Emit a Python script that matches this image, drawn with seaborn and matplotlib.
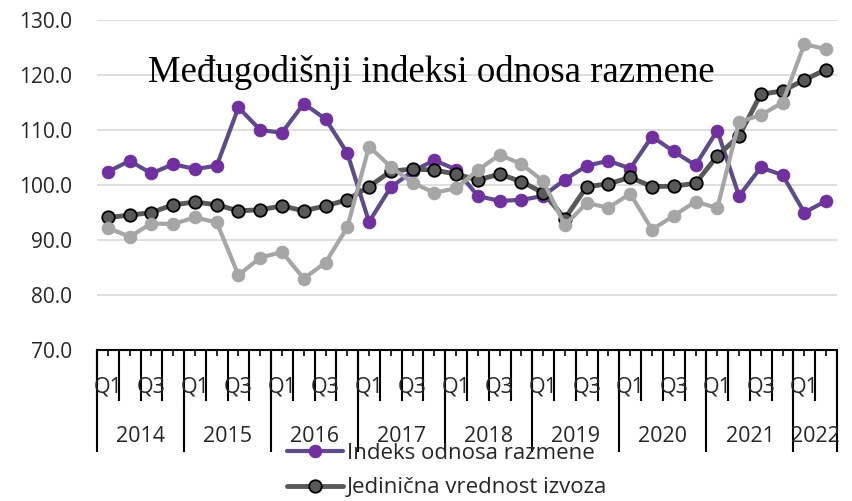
import matplotlib
matplotlib.use("Agg")
import matplotlib.pyplot as plt
import seaborn as sns
import pandas as pd

# Data
years = ["2014", "2015", "2016", "2017", "2018", "2019", "2020", "2021", "2022"]
quarters_per_year = [4, 4, 4, 4, 4, 4, 4, 4, 2]
periods = [f"{y}Q{q}" for y, n in zip(years, quarters_per_year) for q in range(1, n + 1)]

indeks_odnosa = [102.4, 104.4, 102.1, 103.8, 102.9, 103.5, 114.1, 110.0, 109.5, 114.8,
                 112.0, 105.8, 93.3, 99.6, 102.5, 104.5, 102.8, 98.0, 97.1, 97.3,
                 98.0, 101.0, 103.5, 104.4, 103.0, 108.8, 106.1, 103.6, 109.9, 98.0,
                 103.2, 101.8, 95.0, 97.1]
vrednost_izvoza = [94.1, 94.5, 95.0, 96.4, 96.9, 96.4, 95.3, 95.5, 96.2, 95.3,
                   96.2, 97.3, 99.7, 102.5, 102.9, 102.7, 102.0, 100.9, 102.0, 100.6,
                   98.6, 93.9, 99.7, 100.2, 101.4, 99.7, 99.8, 100.3, 105.3, 108.9,
                   116.5, 117.1, 119.1, 121.0]
vrednost_uvoza = [92.2, 90.6, 93.0, 92.9, 94.1, 93.2, 83.6, 86.8, 87.8, 83.0,
                  85.9, 92.3, 107.0, 103.3, 100.4, 98.6, 99.4, 102.7, 105.5, 103.8,
                  100.7, 92.7, 96.7, 95.9, 98.4, 91.9, 94.4, 97.0, 95.8, 111.5,
                  112.7, 115.0, 125.6, 124.7]

df = pd.DataFrame({
    "period": periods,
    "pos": range(len(periods)),
    "Indeks odnosa razmene": indeks_odnosa,
    "Jedinična vrednost izvoza": vrednost_izvoza,
    "Jedinična vrednost uvoza": vrednost_uvoza,
})

sns.set_theme(style="white")
plt.rcParams["font.family"] = ["Open Sans", "DejaVu Sans"]

fig = plt.figure(figsize=(8.52, 5.01), dpi=100)
ax = fig.add_axes([97 / 852, 151 / 501, 740 / 852, 330 / 501])

# purple, dark gray (black edge), light gray
sns.lineplot(data=df, x="pos", y="Indeks odnosa razmene", ax=ax,
             color="#5F4B8B", linewidth=3, marker="o", markersize=11,
             markerfacecolor="#7030A0", markeredgecolor="#7030A0",
             label="Indeks odnosa razmene")
sns.lineplot(data=df, x="pos", y="Jedinična vrednost izvoza", ax=ax,
             color="#595959", linewidth=3.5, marker="o", markersize=11,
             markerfacecolor="#595959", markeredgecolor="black", markeredgewidth=1.3,
             label="Jedinična vrednost izvoza")
sns.lineplot(data=df, x="pos", y="Jedinična vrednost uvoza", ax=ax,
             color="#A6A6A6", linewidth=3, marker="o", markersize=11,
             markerfacecolor="#A6A6A6", markeredgecolor="#A6A6A6",
             label="Jedinična vrednost uvoza")

n = len(periods)
ax.set_xlim(-0.5, n - 0.5)
ax.set_ylim(70, 130)
ax.set_yticks(range(70, 131, 10))
ax.set_yticklabels([f"{v:.1f}" for v in range(70, 131, 10)], fontsize=15, color="#262626")
ax.tick_params(axis="y", length=0, pad=18)
ax.yaxis.grid(True, color="#D9D9D9", linewidth=1.2)
ax.set_axisbelow(True)
ax.set_xlabel("")
ax.set_ylabel("")
for s in ["top", "right", "left"]:
    ax.spines[s].set_visible(False)
ax.spines["bottom"].set_color("black")
ax.spines["bottom"].set_linewidth(1.5)
ax.spines["bottom"].set_zorder(5)

# category axis ticks
bounds = [i - 0.5 for i in range(n + 1)]
ax.set_xticks(bounds)
ax.set_xticklabels([])
ax.set_xticks(range(n), minor=True)
ax.tick_params(axis="x", which="major", direction="inout", length=10, width=1.5, color="black")
ax.tick_params(axis="x", which="minor", bottom=True, direction="out", length=4.5, width=1.2, color="black")

xt = ax.get_xaxis_transform()
ax.vlines(bounds, -51 / 330, 0, transform=xt, color="black", linewidth=1.5, clip_on=False)

for i, p in enumerate(periods):
    q = p[-2:]
    if q in ("Q1", "Q3"):
        ax.text(i, -37 / 330, q, transform=xt, ha="center", va="center",
                fontsize=15.5, color="#262626")

start = 0
year_edges = [-0.5]
for y, cnt in zip(years, quarters_per_year):
    ax.text(start + cnt / 2 - 0.5, -87 / 330, y, transform=xt, ha="center", va="center",
            fontsize=15.5, color="#262626")
    start += cnt
    year_edges.append(start - 0.5)
ax.vlines(year_edges, -102 / 330, 0, transform=xt, color="black", linewidth=1.5, clip_on=False)

# title inside the plot
fig.text(431 / 852, (501 - 73) / 501, "Međugodišnji indeksi odnosa razmene",
         family="Liberation Serif", fontsize=26.5, ha="center", va="center", color="black")

handles, labels = ax.get_legend_handles_labels()
for h in handles:
    h.set_markersize(9)
leg = ax.legend(handles[:2], labels[:2], loc="upper left",
                bbox_to_anchor=(287 / 852, 58 / 501), bbox_transform=fig.transFigure,
                frameon=False, fontsize=16, handlelength=2.5, handletextpad=0.2,
                borderpad=0, borderaxespad=0, labelspacing=0.6, labelcolor="#262626")

fig.savefig("out.png", dpi=100)
